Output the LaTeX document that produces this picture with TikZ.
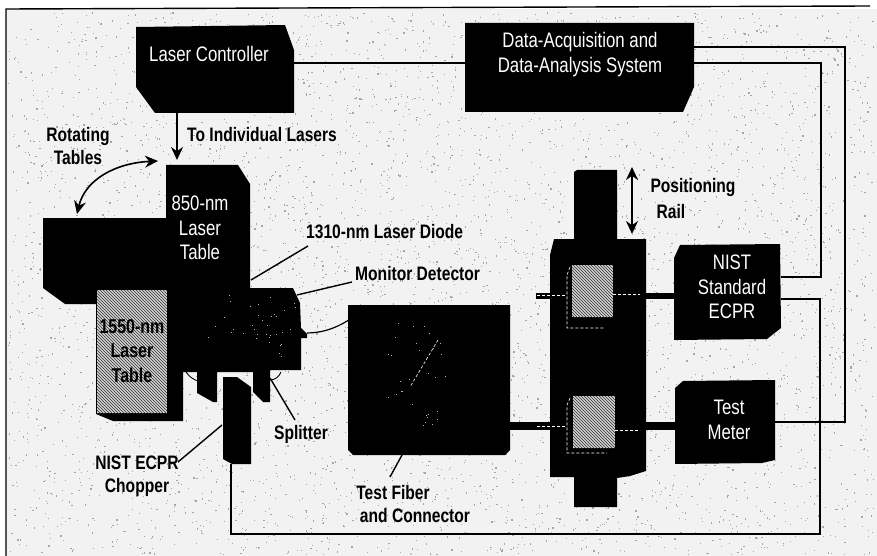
\documentclass[tikz,border=0pt]{standalone}
\usepackage{fontspec}
\setmainfont[FakeStretch=0.8]{Liberation Sans}
\usetikzlibrary{patterns,arrows.meta}
\definecolor{stip}{gray}{0.95}
\tikzset{
  blk/.style={fill=black,draw=none},
  wire/.style={draw=black,line width=1.2pt},
  lead/.style={draw=black,line width=1.4pt},
  hatchbox/.style={preaction={fill=gray!35},pattern=north west lines,pattern color=black!80},
  lab/.style={text=black,font=\fontsize{19.5}{23}\selectfont\bfseries,align=center,inner sep=0pt},
  wlab/.style={text=white,font=\fontsize{21}{24.5}\selectfont,align=center,inner sep=0pt},
  arr/.style={draw=black,line width=1.6pt,-{Stealth[length=13pt,width=12pt]}},
  darr/.style={draw=black,line width=1.6pt,{Stealth[length=13pt,width=12pt]}-{Stealth[length=13pt,width=12pt]}},
  fine/.style={draw=white,densely dashed,line width=.6pt}
}
\begin{document}
\begin{tikzpicture}[x=1pt,y=-1pt]
\useasboundingbox (0,0) rectangle (877,556);
\fill[white] (0,0) rectangle (877,556);
\fill[stip] (6,9) rectangle (877,556);
\draw[black,line width=1.4pt] (6,556) -- (6,9) -- (870,6);
\pgfmathsetseed{7}
\foreach \i in {1,...,5000}{
  \pgfmathsetmacro{\dx}{8+rnd*866}
  \pgfmathsetmacro{\dy}{12+rnd*542}
  \fill[gray!70] (\dx,\dy) rectangle +(1.2,1.2);
}
% Laser controller
\path[blk] (136,27) -- (285,25) -- (294,50) -- (294,113) -- (155,113) -- (136,87) -- cycle;
\node[wlab] (lc) at (209,54) {Laser Controller};
% Data acquisition
\path[blk] (465,23) -- (694,23) -- (694,87) -- (683,112) -- (465,112) -- cycle;
\node[wlab] (das) at (580,54.5) {Data-Acquisition and\\Data-Analysis System};
% tables
\path[blk] (43,218) -- (170,218) -- (170,304) -- (65,304) -- (43,288) -- cycle;
\path[blk] (166,165) -- (238,165) -- (250,184) -- (250,288) -- (293,288) -- (300,303) -- (301,328) -- (307,334) -- (307,338) -- (301,338) -- (301,370) -- (270,370) -- (270,402) -- (263,402) -- (253,392) -- (253,372) -- (217,372) -- (217,402) -- (213,402) -- (197,393) -- (197,372) -- (183,372) -- (183,421) -- (113,421) -- (96,414) -- (96,300) -- (166,300) -- cycle;
\path[hatchbox] (97,290) rectangle (167,413);
\node[lab,font=\fontsize{20}{24.5}\selectfont\bfseries] (t1550) at (132,351) {1550-nm\\Laser\\Table};
\node[wlab] (t850) at (200,228) {850-nm\\Laser\\Table};
% chopper
\path[blk] (223,377) -- (237,377) -- (251,387) -- (251,464) -- (232,464) -- (223,459) -- cycle;
\coordinate (chopb) at (231,464);
% test fibre box
\path[blk] (348,305) -- (510,305) -- (510,450) -- (505,455) -- (353,455) -- (348,450) -- cycle;
\draw[fine] (438,340) -- (410,387);
% specks inside the black blocks
\foreach \i in {1,...,30}{
  \pgfmathsetmacro{\dx}{385+rnd*60}
  \pgfmathsetmacro{\dy}{320+rnd*115}
  \fill[gray!60] (\dx,\dy) rectangle +(1,1);
}
\foreach \i in {1,...,35}{
  \pgfmathsetmacro{\dx}{205+rnd*90}
  \pgfmathsetmacro{\dy}{292+rnd*70}
  \fill[gray!60] (\dx,\dy) rectangle +(1,1);
}
% rail
\path[blk] (577,170) -- (617,170) -- (617,239) -- (646,239) -- (646,471) -- (630,476) -- (617,478) -- (617,507) -- (574,507) -- (574,477) -- (550,477) -- (550,255) -- (554,239) -- (574,239) -- (574,172) -- cycle;
\path[hatchbox] (572,265) rectangle (613,317);
\path[hatchbox] (573,396) rectangle (615,448);
\draw[fine] (570,267) -- (567,275) -- (567,328) -- (605,328);
\draw[fine] (570,398) -- (567,405) -- (567,453) -- (607,453);
% NIST and meter
\path[blk] (680,245) -- (780,244) -- (781,328) -- (767,339) -- (674,340) -- (674,258) -- cycle;
\node[wlab] (nist) at (732,287) {NIST\\Standard\\ECPR};
\path[blk] (683,381) -- (775,380) -- (775,460) -- (762,463) -- (675,464) -- (675,388) -- cycle;
\node[wlab] (tm) at (729,420) {Test\\Meter};
% thick connectors
\draw[black,line width=6pt] (536,296) -- (550,296) (646,296) -- (675,296);
\draw[black,line width=8pt] (510,426) -- (552,426) (646,426) -- (676,426);
\draw[fine] (537,295) -- (567,295) (613,294) -- (640,294);
\draw[fine] (537,426) -- (567,426) (615,430) -- (640,430);
% detector lead
\draw[wire] (307,333) .. controls (322,333) and (338,328) .. (353,317);
% wiring
\draw[wire] (294,63) -- (465,63);
\draw[wire] (694,47) -- (845,47) -- (845,422) -- (775,422);
\draw[wire] (694,63) -- (821,63) -- (821,277) -- (781,277);
\draw[wire] (781,299) -- (820,299) -- (820,534) -- (231,534) -- (231,464);
% arrows and labels
\draw[arr] (177,113) -- (177,160);
\node[lab,anchor=west] (ind) at (187,135) {To Individual Lasers};
\node[lab] (rot) at (78,146.5) {Rotating\\Tables};
\draw[darr] (77,214) .. controls (85,180) and (115,163) .. (158,161);
\draw[darr] (632,167) -- (632,234);
\node[lab] (rail1) at (693,188) {Positioning};
\node[lab] (rail2) at (671,212) {Rail};
% leads with labels
\node[lab,anchor=west] (ld) at (306,232) {1310-nm Laser Diode};
\draw[lead] (251,280) -- (308,246);
\node[lab,anchor=west] (md) at (355,274) {Monitor Detector};
\draw[lead] (297,295) -- (352,282);
\node[lab] (sp) at (301,434) {Splitter};
\draw[lead] (270,378) -- (295,420);
\node[lab] (chop) at (137,463) {NIST ECPR};
\node[lab] (chop2) at (137,487) {Chopper};
\draw[lead] (178,462) -- (222,425);
\node[lab] (tf) at (393,493) {Test Fiber};
\node[lab] (tc) at (415,516) {and Connector};
\draw[lead] (402,455) -- (390,477);
\draw[black,line width=.9pt] (186,372) .. controls (190,378) and (195,380) .. (198,381);
\draw[black,line width=.9pt] (270,380) .. controls (275,380) and (279,377) .. (281,372);
\end{tikzpicture}
\end{document}
